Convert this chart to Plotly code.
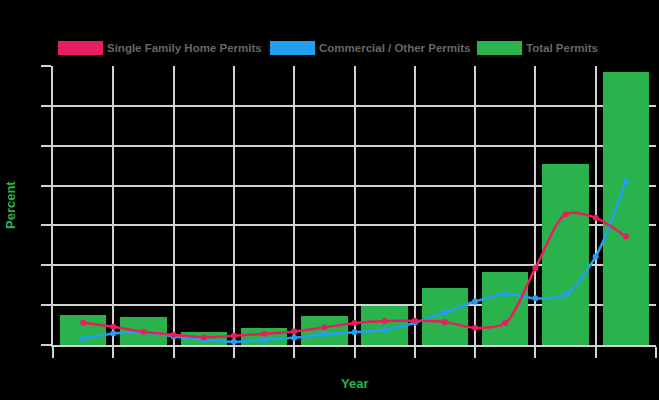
import plotly.graph_objects as go

years = ["2010", "2011", "2012", "2013", "2014", "2015", "2016", "2017", "2018", "2019"]
total_permits = [7.5, 7.0, 3.3, 4.3, 7.3, 9.8, 14.3, 18.3, 45.5, 68.6]

# line series sampled every half category (19 points)
line_x = [i * 0.5 for i in range(19)]
single_family = [5.6, 4.6, 3.3, 2.6, 1.9, 2.3, 2.8, 3.4, 4.4, 5.5,
                 6.0, 6.1, 5.8, 4.3, 5.5, 19.3, 32.8, 31.9, 27.2]
commercial = [1.6, 2.9, 3.2, 2.1, 1.3, 0.8, 1.3, 1.8, 2.7, 3.2,
              3.8, 5.6, 8.2, 10.9, 12.8, 11.7, 12.6, 22.2, 41.0]
y_ticks = [0, 10, 20, 30, 40, 50, 60, 70]

RED = "#E91E5F"
BLUE = "#22A0F0"
GREEN = "#2AB24D"
GRID = "#D2D2D2"

L, R, T, B = 53, 656, 66, 345
PW, PH = R - L, B - T


def px(x):
    return (x - L) / PW


def py(y):
    return (B - y) / PH


fig = go.Figure()
fig.add_trace(go.Bar(x=list(range(len(years))), y=total_permits, name="Total Permits",
                     marker=dict(color=GREEN, line=dict(width=0)), width=0.77))
fig.add_trace(go.Scatter(x=line_x, y=commercial, name="Commercial / Other Permits",
                         mode="lines+markers", line=dict(color=BLUE, width=2.5, shape="spline", smoothing=0.8),
                         marker=dict(color=BLUE, size=6)))
fig.add_trace(go.Scatter(x=line_x, y=single_family, name="Single Family Home Permits",
                         mode="lines+markers", line=dict(color=RED, width=2.5, shape="spline", smoothing=0.8),
                         marker=dict(color=RED, size=6)))

# custom legend (boxes + texts)
legend_items = [("Single Family Home Permits", RED), ("Commercial / Other Permits", BLUE), ("Total Permits", GREEN)]
box_x = [58, 270, 477]
shapes = []
annotations = []
for (label, col), bx in zip(legend_items, box_x):
    shapes.append(dict(type="rect", xref="paper", yref="paper",
                       x0=px(bx), x1=px(bx + 45), y0=py(55), y1=py(41),
                       fillcolor=col, line=dict(width=0), layer="above"))
    annotations.append(dict(text=label, xref="paper", yref="paper",
                            x=px(bx + 47), y=py(48),
                            xanchor="left", yanchor="middle", showarrow=False,
                            font=dict(family="Liberation Sans, Arial", size=11.5, color="#666666",
                                      weight="bold")))

annotations.append(dict(text="Year", xref="paper", yref="paper", x=px(354.5), y=py(384),
                        xanchor="center", yanchor="middle", showarrow=False,
                        font=dict(family="Liberation Sans, Arial", size=13, color=GREEN, weight="bold")))
annotations.append(dict(text="Percent", xref="paper", yref="paper", x=px(10), y=py(205),
                        xanchor="center", yanchor="middle", showarrow=False, textangle=-90,
                        font=dict(family="Liberation Sans, Arial", size=13, color=GREEN, weight="bold")))

fig.update_layout(
    width=659, height=400,
    margin=dict(l=L, r=659 - R, t=T, b=400 - B, autoexpand=False),
    paper_bgcolor="black", plot_bgcolor="black",
    showlegend=False, bargap=0,
    font=dict(family="Liberation Sans, Arial", color="#000000"),
    shapes=shapes, annotations=annotations,
    xaxis=dict(
        range=[-0.5, 9.5], automargin=False,
        tickvals=list(range(len(years))), ticktext=years,
        tickfont=dict(color="#000000", size=12),
        showgrid=False, ticks="",
        showline=True, linecolor=GRID, linewidth=2,
        minor=dict(tickvals=[i - 0.5 for i in range(len(years) + 1)], showgrid=True,
                   gridcolor=GRID, gridwidth=2, ticks="outside", ticklen=11,
                   tickcolor=GRID, tickwidth=2),
        zeroline=False,
    ),
    yaxis=dict(
        range=[0, 70], tickvals=y_ticks, automargin=False,
        tickfont=dict(color="#000000", size=12),
        showgrid=True, gridcolor=GRID, gridwidth=2,
        ticks="outside", ticklen=10, tickcolor=GRID, tickwidth=2,
        showline=True, linecolor=GRID, linewidth=2,
        zeroline=False,
    ),
)

fig.write_html("out.html", config={"displayModeBar": False},
               post_script="document.body.style.margin='0';document.body.style.background='black';")
